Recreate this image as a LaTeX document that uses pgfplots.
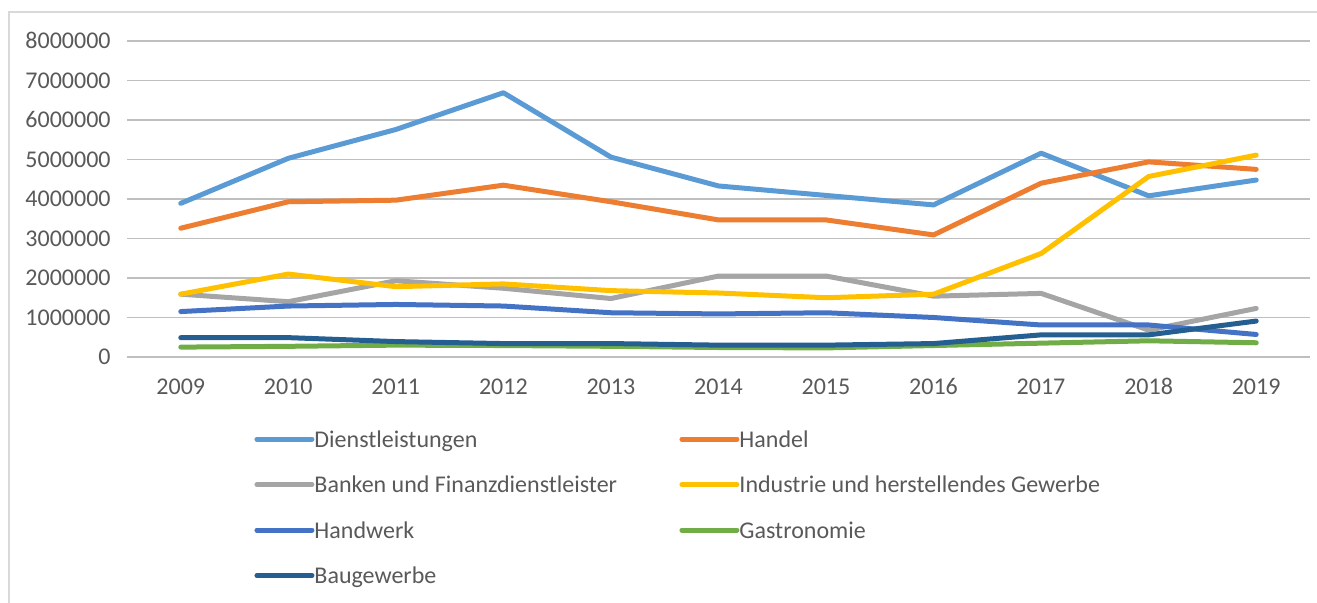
\documentclass[border=0pt]{standalone}
\usepackage{fontspec}
\setmainfont{Carlito}
\usepackage{pgfplots}
\pgfplotsset{compat=1.18}
\definecolor{txt}{HTML}{595959}
\definecolor{grid}{HTML}{D9D9D9}
\definecolor{cDienst}{HTML}{5B9BD5}
\definecolor{cHandel}{HTML}{ED7D31}
\definecolor{cBank}{HTML}{A5A5A5}
\definecolor{cInd}{HTML}{FFC000}
\definecolor{cHandw}{HTML}{4472C4}
\definecolor{cGastro}{HTML}{70AD47}
\definecolor{cBau}{HTML}{255E91}
\newcommand{\legtxt}[1]{\makebox[182.5pt][l]{#1}}

\begin{document}
\begin{tikzpicture}[font=\fontsize{12}{14}\selectfont]
  % 1 px of the reference = 0.5pt
  \path[use as bounding box] (0,0) rectangle (658.5pt,301.5pt);
  \draw[grid,line width=0.75pt] (4.5pt,0) -- (4.5pt,295.5pt) -- (660pt,295.5pt);
  \begin{axis}[
    at={(63.5pt,123pt)}, anchor=south west,
    scale only axis, width=591.5pt, height=158pt,
    xmin=2008.5, xmax=2019.5, ymin=0, ymax=8000000,
    xtick={2009,...,2019},
    xticklabels={2009,2010,2011,2012,2013,2014,2015,2016,2017,2018,2019},
    ytick={0,1000000,2000000,3000000,4000000,5000000,6000000,7000000,8000000},
    yticklabels={0,1000000,2000000,3000000,4000000,5000000,6000000,7000000,8000000},
    scaled y ticks=false,
    axis line style={draw=none},
    major tick length=0pt,
    ymajorgrids, xmajorgrids=false, grid style={grid,line width=0.75pt},
    tick label style={text=txt,font=\fontsize{12}{14}\selectfont,text height=8pt,text depth=0pt},
    yticklabel style={inner sep=0pt,xshift=-8pt},
    xticklabel style={inner sep=0pt,yshift=-10.5pt},
    clip=false,
    every axis plot/.append style={line width=2.5pt,line join=round,line cap=round},
    legend columns=2,
    legend style={at={(axis description cs:0.1074,-0.23)},anchor=north west,
      draw=none,fill=none,inner sep=0pt,row sep=11.75pt,
      nodes={text=txt,text height=8.5pt,text depth=2.5pt,inner sep=0pt,xshift=2pt},
      font=\fontsize{12}{14}\selectfont},
    legend image code/.code={\draw[#1,line width=2.5pt,line cap=round] (0pt,1pt) -- (27.5pt,1pt);},
  ]
    \addplot[cDienst] coordinates {(2009,3890000) (2010,5030000) (2011,5760000) (2012,6690000) (2013,5060000) (2014,4330000) (2015,4090000) (2016,3850000) (2017,5160000) (2018,4080000) (2019,4480000)};
    \addlegendentry{\legtxt{Dienstleistungen}}
    \addplot[cHandel] coordinates {(2009,3260000) (2010,3930000) (2011,3970000) (2012,4350000) (2013,3930000) (2014,3470000) (2015,3470000) (2016,3090000) (2017,4400000) (2018,4940000) (2019,4750000)};
    \addlegendentry{\legtxt{Handel}}
    \addplot[cBank] coordinates {(2009,1590000) (2010,1400000) (2011,1930000) (2012,1740000) (2013,1480000) (2014,2050000) (2015,2050000) (2016,1540000) (2017,1610000) (2018,680000) (2019,1230000)};
    \addlegendentry{\legtxt{Banken und Finanzdienstleister}}
    \addplot[cInd] coordinates {(2009,1590000) (2010,2100000) (2011,1780000) (2012,1850000) (2013,1680000) (2014,1620000) (2015,1500000) (2016,1590000) (2017,2620000) (2018,4570000) (2019,5110000)};
    \addlegendentry{\legtxt{Industrie und herstellendes Gewerbe}}
    \addplot[cHandw] coordinates {(2009,1150000) (2010,1290000) (2011,1330000) (2012,1290000) (2013,1120000) (2014,1090000) (2015,1120000) (2016,1000000) (2017,810000) (2018,810000) (2019,570000)};
    \addlegendentry{\legtxt{Handwerk}}
    \addplot[cGastro] coordinates {(2009,250000) (2010,270000) (2011,300000) (2012,290000) (2013,270000) (2014,240000) (2015,230000) (2016,290000) (2017,350000) (2018,410000) (2019,360000)};
    \addlegendentry{\legtxt{Gastronomie}}
    \addplot[cBau] coordinates {(2009,490000) (2010,490000) (2011,390000) (2012,340000) (2013,340000) (2014,300000) (2015,300000) (2016,340000) (2017,560000) (2018,560000) (2019,910000)};
    \addlegendentry{\legtxt{Baugewerbe}}
  \end{axis}
\end{tikzpicture}
\end{document}
